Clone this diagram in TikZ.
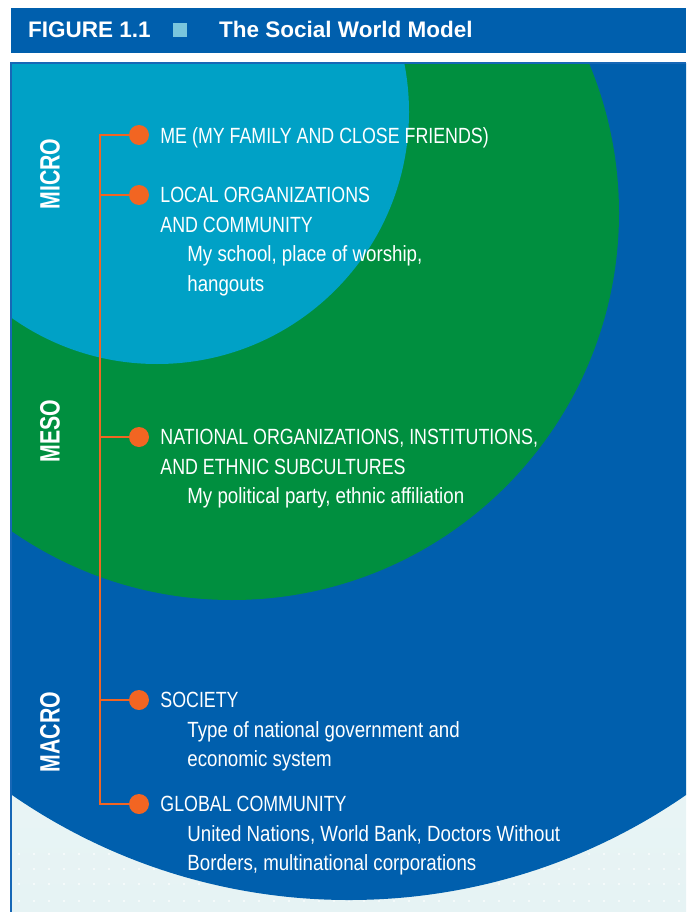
\documentclass[tikz,border=0pt]{standalone}
\usepackage{fontspec}
\newfontfamily\swtext{Liberation Sans}[FakeStretch=0.81]
\newfontfamily\swdesc{Liberation Sans}[FakeStretch=0.85]
\newfontfamily\swlabel{Liberation Sans}[FakeStretch=0.76]
\newfontfamily\swhead{Liberation Sans}
\usetikzlibrary{positioning}
\definecolor{swblue}{HTML}{005FAD}
\definecolor{swframe}{HTML}{1767B6}
\definecolor{swcyan}{HTML}{00A1C6}
\definecolor{swgreen}{HTML}{008F3F}
\definecolor{sworange}{HTML}{F26522}
\definecolor{swsquare}{HTML}{7AC6DD}
\definecolor{swpale}{HTML}{E6F3F4}
\newcommand{\swsub}[1]{\hspace*{27pt}{\swdesc #1}}

\begin{document}
\begin{tikzpicture}[x=1pt,y=-1pt,
  dot/.style={circle,fill=sworange,minimum size=20pt,inner sep=0pt},
  spine/.style={draw=sworange,line width=2pt},
  item/.style={anchor=north west,inner sep=0pt,align=left,text=white,
    font=\swtext\fontsize{22}{29.5}\selectfont},
  scalelabel/.style={rotate=90,inner sep=0pt,text=white,
    font=\swlabel\bfseries\fontsize{28}{28}\selectfont},
  headtext/.style={anchor=base west,inner sep=0pt,text=white,
    font=\swhead\bfseries\fontsize{22.5}{22.5}\selectfont}]
  \useasboundingbox (0,0) rectangle (686,912);

  % title bar
  \fill[swblue] (11,8) rectangle (686,53);
  \node[headtext] (fig) at (28,37.5) {FIGURE 1.1};
  \fill[swsquare] (173,23) rectangle (187,37);
  \node[headtext] (title) at (219,37.5) {The Social World Model};

  % the three circles
  \begin{scope}
    \clip (12,64) rectangle (686,912);
    \shade[top color=swpale!40,bottom color=swpale] (12,64) rectangle (686,912);
    \foreach \y in {854,869,884,901}
      \draw[white,opacity=0.6,line width=1.5pt,dash pattern=on 1.5pt off 13.5pt] (18,\y) -- (686,\y);
    \fill[swblue] (349,307) circle (593);
    \fill[swgreen] (232,213) circle (387);
    \fill[swcyan] (157,112) circle (252);
  \end{scope}
  \draw[swframe,line width=2.5pt] (11,912) -- (11,63) -- (686,63);

  % levels
  \node[scalelabel] (micro) at (50,174) {MICRO};
  \node[scalelabel] (meso) at (50,431) {MESO};
  \node[scalelabel] (macro) at (50,732) {MACRO};

  \node[dot] (dme) at (139,135) {};
  \node[dot] (dlocal) at (139,195) {};
  \node[dot] (dnational) at (139,437) {};
  \node[dot] (dsociety) at (139,700) {};
  \node[dot] (dglobal) at (139,804) {};

  \coordinate (sme) at (100,135);
  \coordinate (slocal) at (sme |- dlocal);
  \coordinate (snational) at (sme |- dnational);
  \coordinate (ssociety) at (sme |- dsociety);
  \coordinate (sglobal) at (sme |- dglobal);

  \draw[spine] (dme) -- (sme) -- (sglobal) -- (dglobal);
  \draw[spine] (slocal) -- (dlocal);
  \draw[spine] (snational) -- (dnational);
  \draw[spine] (ssociety) -- (dsociety);

  \node[item] (tme) at ([xshift=11pt,yshift=8pt]dme.east) {ME (MY FAMILY AND CLOSE FRIENDS)};
  \node[item] (tlocal) at ([xshift=11pt,yshift=8pt]dlocal.east)
    {LOCAL ORGANIZATIONS\\AND COMMUNITY\\
     \swsub{My school, place of worship,}\\\swsub{hangouts}};
  \node[item] (tnational) at ([xshift=11pt,yshift=8pt]dnational.east)
    {NATIONAL ORGANIZATIONS, INSTITUTIONS,\\AND ETHNIC SUBCULTURES\\
     \swsub{My political party, ethnic affiliation}};
  \node[item] (tsociety) at ([xshift=11pt,yshift=8pt]dsociety.east)
    {SOCIETY\\\swsub{Type of national government and}\\
     \swsub{economic system}};
  \node[item] (tglobal) at ([xshift=11pt,yshift=8pt]dglobal.east)
    {GLOBAL COMMUNITY\\\swsub{United Nations, World Bank, Doctors Without}\\
     \swsub{Borders, multinational corporations}};
\end{tikzpicture}
\end{document}
